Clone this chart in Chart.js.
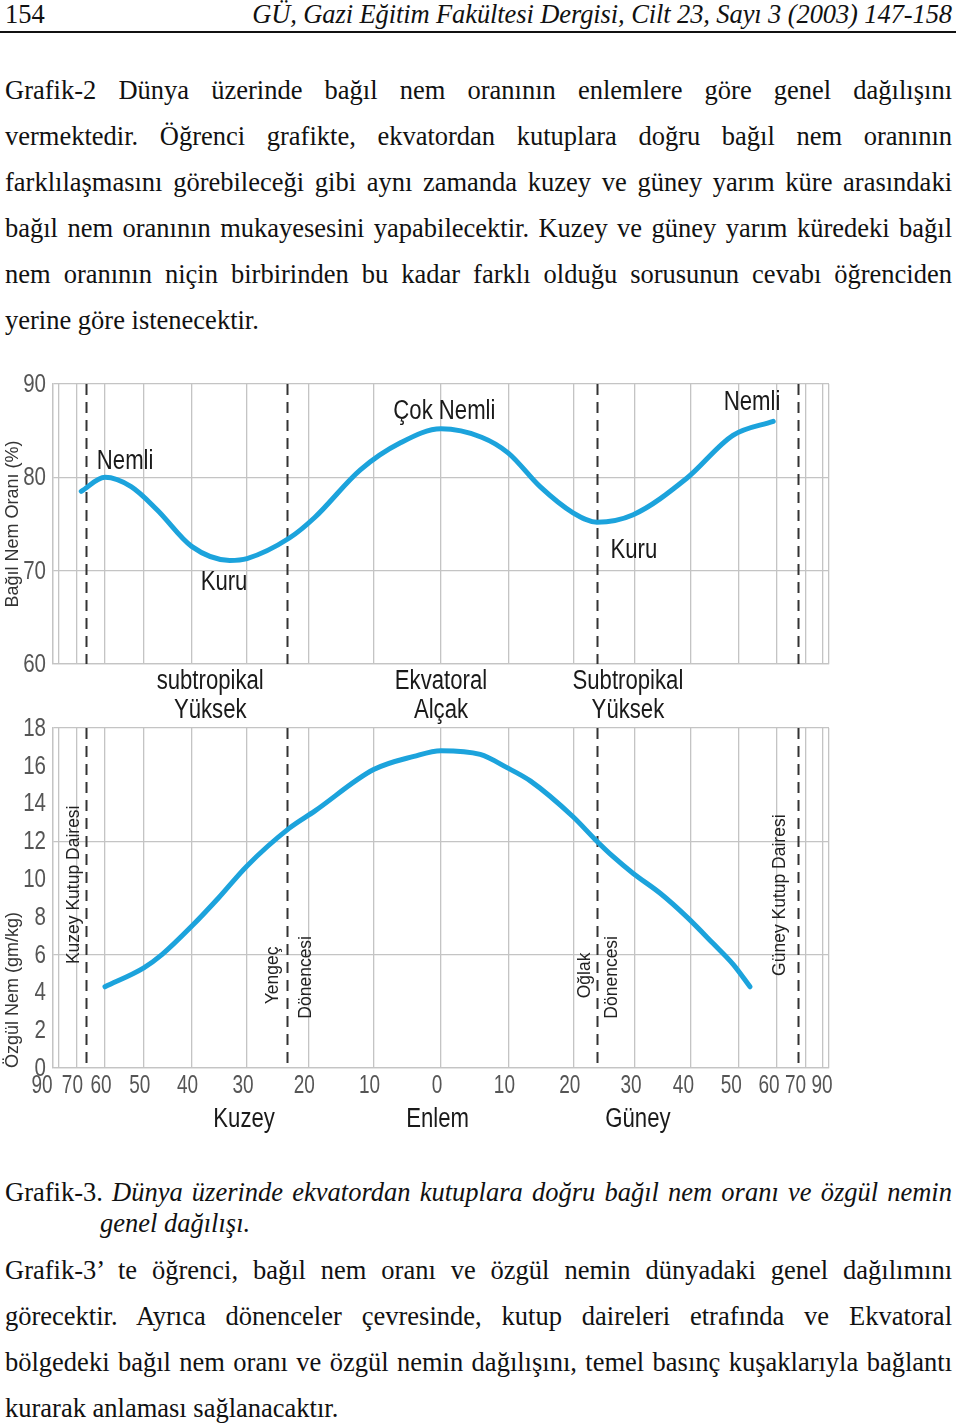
<!DOCTYPE html>
<html>
<head>
<meta charset="utf-8">
<style>
    body { margin: 0; background: #fff; width: 960px; height: 1427px; position: relative; overflow: hidden; }
    .ln { position: absolute; left: 5px; width: 947px; font-family: "Liberation Serif", "Times New Roman", serif; font-size: 26.5px; line-height: 30px; color: #111; text-align: justify; text-align-last: justify; }
    .ln.last { text-align-last: left; }
    canvas { position: absolute; left: 0; }
</style>
</head>
<body>
<div class="ln last" style="top:-1px;">154</div>
<div class="ln" style="top:-1px; text-align:right; text-align-last:right; letter-spacing:-0.1px;"><i>GÜ, Gazi Eğitim Fakültesi Dergisi, Cilt 23, Sayı 3 (2003) 147-158</i></div>
<div style="position:absolute; left:0; top:31px; width:956px; height:2px; background:#111;"></div>

<div class="ln" style="top:75px;">Grafik-2 Dünya üzerinde bağıl nem oranının enlemlere göre genel dağılışını</div>
<div class="ln" style="top:121px;">vermektedir. Öğrenci grafikte, ekvatordan kutuplara doğru bağıl nem oranının</div>
<div class="ln" style="top:167px;">farklılaşmasını görebileceği gibi aynı zamanda kuzey ve güney yarım küre arasındaki</div>
<div class="ln" style="top:213px;">bağıl nem oranının mukayesesini yapabilecektir. Kuzey ve güney yarım küredeki bağıl</div>
<div class="ln" style="top:259px;">nem oranının niçin birbirinden bu kadar farklı olduğu sorusunun cevabı öğrenciden</div>
<div class="ln last" style="top:305px;">yerine göre istenecektir.</div>

<canvas id="shChart" width="960" height="480" style="top:668px;"></canvas>
<canvas id="rhChart" width="960" height="330" style="top:360px;"></canvas>

<div class="ln" style="top:1177px;">Grafik-3. <i>Dünya üzerinde ekvatordan kutuplara doğru bağıl nem oranı ve özgül nemin</i></div>
<div class="ln last" style="top:1208px; left:100px; width:850px;"><i>genel dağılışı.</i></div>
<div class="ln" style="top:1255px;">Grafik-3’ te öğrenci, bağıl nem oranı ve özgül nemin dünyadaki genel dağılımını</div>
<div class="ln" style="top:1301px;">görecektir. Ayrıca dönenceler çevresinde, kutup daireleri etrafında ve Ekvatoral</div>
<div class="ln" style="top:1347px;">bölgedeki bağıl nem oranı ve özgül nemin dağılışını, temel basınç kuşaklarıyla bağlantı</div>
<div class="ln last" style="top:1393px;">kurarak anlaması sağlanacaktır.</div>

<script src="https://cdn.jsdelivr.net/npm/chart.js"></script>
<script>
    // latitude: north positive (left side), south negative (right side)
    const latTicks = [90, 80, 70, 60, 50, 40, 30, 20, 10, 0, -10, -20, -30, -40, -50, -60, -70, -80, -90];
    const latLabels = ['90', '', '70', '60', '50', '40', '30', '20', '10', '0', '10', '20', '30', '40', '50', '60', '70', '', '90'];
    const circleLats = [66.5, 23.5, -23.5, -66.5];

    // Grafik-3 top: bağıl nem oranı (%)
    const rhLat = [68, 60, 53, 47, 40, 33, 30, 23, 19, 12, 6, 0, -6, -10, -14.8, -19.9, -23.7, -29.7, -39.3, -48.8, -58.9];
    const rhValues = [78.5, 80.0, 79.0, 76.5, 72.6, 71.1, 71.3, 73.5, 75.7, 80.8, 83.7, 85.2, 84.3, 82.6, 79.0, 76.2, 75.2, 76.0, 79.9, 84.5, 86.0];
    const rhTicks = [60, 70, 80, 90];
    const rhNoteTexts = ['Nemli', 'Kuru', 'Çok Nemli', 'Kuru', 'Nemli'];
    const rhNoteLats = [54.5, 34, -0.5, -29.8, -53.3];
    const rhNoteValues = [81.7, 68.7, 87.0, 72.2, 88.0];

    // Grafik-3 bottom: özgül nem (gm/kg)
    const shLat = [60, 50, 46, 40, 35, 30, 23, 19, 10, 4, 0, -5.8, -9.8, -13.3, -19.9, -23.4, -26.3, -29.7, -34.4, -39.3, -44.5, -48.8, -52.8];
    const shValues = [4.3, 5.3, 6.0, 7.5, 9.0, 10.7, 12.7, 13.6, 15.8, 16.5, 16.8, 16.6, 15.9, 15.2, 13.3, 12.1, 11.2, 10.3, 9.25, 8.0, 6.6, 5.5, 4.3];
    const shTicks = [0, 2, 4, 6, 8, 10, 12, 14, 16, 18];
    const shLineTexts = ['Kuzey Kutup Dairesi', 'Yengeç', 'Dönencesi', 'Oğlak', 'Dönencesi', 'Güney Kutup Dairesi'];
    const shLineLats = [71, 25.7, 20.4, -21.8, -26.2, -60.8];
    const shLineValues = [9.7, 4.9, 4.8, 4.9, 4.8, 9.15];

    const beltTop = ['subtropikal', 'Ekvatoral', 'Subtropikal'];
    const beltBottom = ['Yüksek', 'Alçak', 'Yüksek'];
    const beltLats = [36.5, 0, -28.8];
    const sideTexts = ['Kuzey', 'Enlem', 'Güney'];
    const sideLats = [30.5, 0.5, -30.5];

    const curveColor = '#1ca3dc';
    const gridColor = '#c4c4c4';
    const tickColor = '#555';

    // area-true latitude axis: position follows sin(latitude)
    class SineScale extends Chart.LinearScale {
        getPixelForValue(value) {
            const s = Math.sin(value * Math.PI / 180);
            return this.left + (1 - s) / 2 * this.width;
        }
        getValueForPixel(pixel) {
            const s = 1 - 2 * (pixel - this.left) / this.width;
            return Math.asin(Math.max(-1, Math.min(1, s))) * 180 / Math.PI;
        }
    }
    SineScale.id = 'sine';
    SineScale.defaults = { ticks: { callback: v => v } };
    Chart.register(SineScale);

    function narrowText(ctx, text, x, y, size, color, align, squeeze) {
        ctx.save();
        ctx.font = size + 'px "Liberation Sans", Arial, sans-serif';
        ctx.fillStyle = color;
        ctx.textAlign = align || 'center';
        ctx.textBaseline = 'middle';
        ctx.translate(x, y);
        ctx.scale(squeeze || 0.82, 1);
        ctx.fillText(text, 0, 0);
        ctx.restore();
    }

    const tropicsPlugin = {
        id: 'tropics',
        beforeDatasetsDraw(chart) {
            const { ctx, chartArea, scales } = chart;
            ctx.save();
            ctx.strokeStyle = '#333';
            ctx.lineWidth = 2;
            ctx.setLineDash([11, 7]);
            circleLats.forEach(lat => {
                const px = Math.round(scales.x.getPixelForValue(lat)) + 1.5;
                ctx.beginPath();
                ctx.moveTo(px, chartArea.top);
                ctx.lineTo(px, chartArea.bottom);
                ctx.stroke();
            });
            ctx.restore();
        },
        afterDraw(chart) {
            const { ctx, chartArea, scales } = chart;
            scales.y.ticks.forEach(t => {
                narrowText(ctx, String(t.value), chartArea.left - 7, scales.y.getPixelForValue(t.value) + 1, 25, tickColor, 'right');
            });
        }
    };

    function latAxis() {
        return {
            type: 'sine',
            min: -90,
            max: 90,
            afterBuildTicks: scale => { scale.ticks = latTicks.map(v => ({ value: v })); },
            afterFit: scale => { scale.height = 0; },
            ticks: { display: false },
            grid: { color: gridColor, lineWidth: 1.3, drawTicks: false },
            border: { color: gridColor, width: 1.3 }
        };
    }

    function yAxis(min, max, ticks, title, gridTest, titleAlign) {
        return {
            min: min,
            max: max,
            afterBuildTicks: scale => { scale.ticks = ticks.map(v => ({ value: v })); },
            afterFit: scale => { scale.width = 53; },
            ticks: { display: false },
            grid: { color: ctx => gridTest(ctx.tick.value) ? gridColor : 'rgba(0,0,0,0)', lineWidth: 1.3, drawTicks: false },
            border: { color: gridColor, width: 1.3 },
            title: {
                display: true, text: title, color: '#333', align: titleAlign,
                font: { family: '"Liberation Sans", Arial, sans-serif', size: 18 },
                padding: { top: 2, bottom: 0 }
            }
        };
    }

    const rhNotes = {
        id: 'rhNotes',
        afterDraw(chart) {
            const { ctx, scales } = chart;
            rhNoteTexts.forEach((t, i) => {
                narrowText(ctx, t, scales.x.getPixelForValue(rhNoteLats[i]), scales.y.getPixelForValue(rhNoteValues[i]), 27, '#1a1a1a');
            });
        }
    };

    new Chart(document.getElementById('rhChart'), {
        type: 'line',
        data: {
            datasets: [{
                data: rhLat.map((lat, i) => ({ x: lat, y: rhValues[i] })),
                borderColor: curveColor,
                borderWidth: 5,
                pointRadius: 0,
                cubicInterpolationMode: 'monotone',
                borderCapStyle: 'round',
                borderJoinStyle: 'round'
            }]
        },
        options: {
            responsive: false,
            animation: false,
            layout: { padding: { left: 0, right: 131, top: 24, bottom: 26 } },
            plugins: { legend: { display: false }, tooltip: { enabled: false } },
            scales: {
                x: latAxis(),
                y: yAxis(60, 90, rhTicks, 'Bağıl Nem Oranı (%)', v => true, 'center')
            }
        },
        plugins: [tropicsPlugin, rhNotes]
    });

    const shNotes = {
        id: 'shNotes',
        afterDraw(chart) {
            const { ctx, chartArea, scales } = chart;
            const x = scales.x, y = scales.y;
            // rotated labels next to the dashed circles
            shLineTexts.forEach((t, i) => {
                ctx.save();
                ctx.translate(x.getPixelForValue(shLineLats[i]), y.getPixelForValue(shLineValues[i]));
                ctx.rotate(-Math.PI / 2);
                ctx.font = '17.5px "Liberation Sans", Arial, sans-serif';
                ctx.fillStyle = '#222';
                ctx.textAlign = 'center';
                ctx.textBaseline = 'middle';
                ctx.fillText(t, 0, 0);
                ctx.restore();
            });
            // pressure belts above the plot
            beltLats.forEach((lat, i) => {
                const px = x.getPixelForValue(lat);
                narrowText(ctx, beltTop[i], px, chartArea.top - 46, 27, '#1a1a1a');
                narrowText(ctx, beltBottom[i], px, chartArea.top - 17, 27, '#1a1a1a');
            });
            // latitude labels, the scan sits a little left of the grid
            latTicks.forEach((lat, i) => {
                if (!latLabels[i]) return;
                let shift = -4;
                if (lat === 90) shift = -11;
                else if (lat === -70) shift = -10;
                else if (lat === -60) shift = -8;
                else if (lat <= -40) shift = -7;
                else if (lat === -90) shift = -5;
                narrowText(ctx, latLabels[i], x.getPixelForValue(lat) + shift, chartArea.bottom + 18, 25, tickColor, 'center', 0.76);
            });
            sideLats.forEach((lat, i) => {
                narrowText(ctx, sideTexts[i], x.getPixelForValue(lat), chartArea.bottom + 52, 27, '#1a1a1a');
            });
        }
    };

    new Chart(document.getElementById('shChart'), {
        type: 'line',
        data: {
            datasets: [{
                data: shLat.map((lat, i) => ({ x: lat, y: shValues[i] })),
                borderColor: curveColor,
                borderWidth: 5,
                pointRadius: 0,
                cubicInterpolationMode: 'monotone',
                borderCapStyle: 'round',
                borderJoinStyle: 'round'
            }]
        },
        options: {
            responsive: false,
            animation: false,
            layout: { padding: { left: 0, right: 131, top: 60, bottom: 80 } },
            plugins: { legend: { display: false }, tooltip: { enabled: false } },
            scales: {
                x: latAxis(),
                y: yAxis(0, 18, shTicks, 'Özgül Nem (gm/kg)', v => v % 6 === 0, 'start')
            }
        },
        plugins: [tropicsPlugin, shNotes]
    });
</script>
</body>
</html>
